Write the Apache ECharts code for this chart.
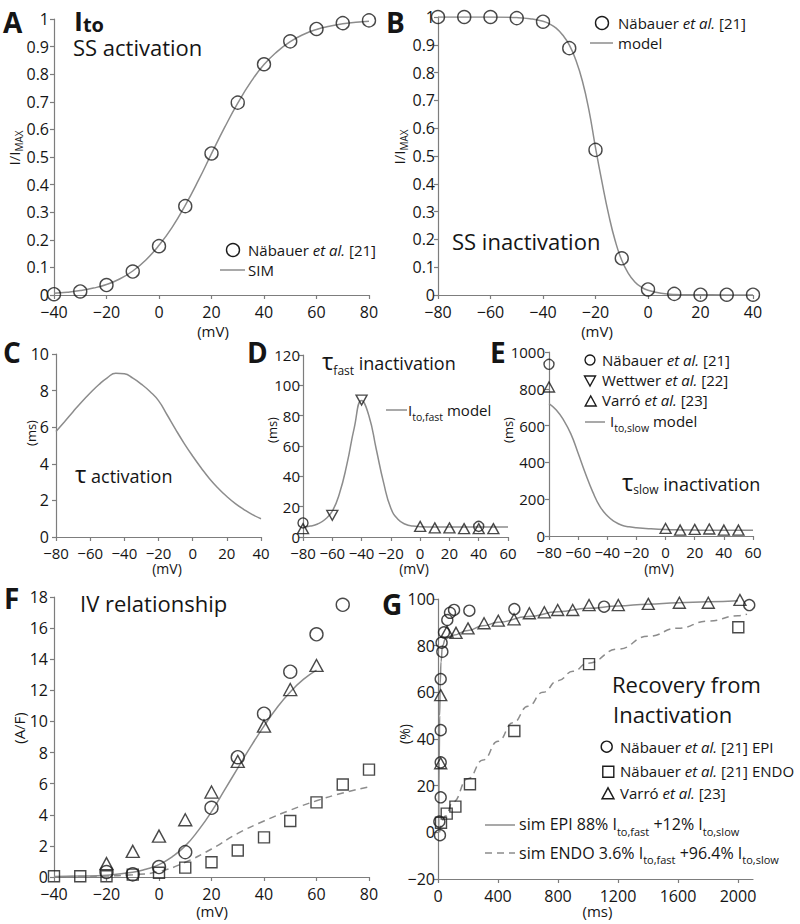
<!DOCTYPE html>
<html><head><meta charset="utf-8">
<script src="https://cdn.jsdelivr.net/npm/echarts@6/dist/echarts.min.js"></script>
<style>html,body{margin:0;padding:0;background:#fff}#c{width:800px;height:924px}</style>
</head><body><div id="c"></div>
<script>
// ---------- DATA ----------
// A: steady-state activation
const aVolt = [-40,-30,-20,-10,0,10,20,30,40,50,60,70,80];
const aNab  = [0.003,0.013,0.036,0.085,0.177,0.322,0.513,0.697,0.836,0.919,0.964,0.985,0.995];
const aSimV = [-40,-35,-30,-25,-20,-15,-10,-5,0,5,10,15,20,25,30,35,40,45,50,55,60,65,70,75,80];
const aSim  = [0.006,0.01,0.016,0.025,0.038,0.058,0.087,0.127,0.18,0.245,0.325,0.415,0.512,0.607,0.695,0.772,0.835,0.882,0.918,0.944,0.962,0.974,0.983,0.988,0.992];
// B: steady-state inactivation
const bVolt = [-80,-70,-60,-50,-40,-30,-20,-10,0,10,20,30,40];
const bNab  = [1,1,1,0.996,0.983,0.888,0.522,0.132,0.02,0.004,0.001,0.001,0.001];
const bModV = [-80,-70,-60,-50,-45,-40,-37.5,-35,-32.5,-30,-27.5,-25,-22.5,-20,-17.5,-15,-12.5,-10,-7.5,-5,-2.5,0,5,10,20,30,40];
const bMod  = [1,1,1,0.998,0.994,0.985,0.975,0.96,0.935,0.9,0.845,0.77,0.665,0.53,0.405,0.29,0.195,0.125,0.078,0.047,0.028,0.017,0.006,0.002,0.001,0,0];
// C: tau activation
const cVolt = [-80,-75,-70,-65,-60,-55,-50,-45,-40,-35,-30,-25,-20,-15,-10,-5,0,5,10,15,20,25,30,35,40];
const cTau  = [5.76,6.3,6.85,7.38,7.87,8.32,8.7,8.95,8.92,8.68,8.35,7.95,7.45,6.68,5.88,5.12,4.42,3.77,3.17,2.66,2.21,1.82,1.5,1.22,1.0];
// D: tau fast inactivation
const dModV = [-80,-75,-70,-65,-60,-55,-50,-45,-40,-35,-30,-25,-20,-15,-10,-5,0,10,20,30,40,50,60];
const dMod  = [6.5,7.2,8.6,11.5,17,29,48,72,90,80,58,36,19,11.5,8.4,7.2,6.8,6.6,6.6,6.6,6.6,6.6,6.6];
const dNabV = [-80,40];
const dNab  = [9.3,7.0];
const dWetV = [-60,-40];
const dWet  = [14.3,90.3];
const dVarV = [-80,0,10,20,30,40,50];
const dVar  = [5.5,7,6,6,5.5,5.5,5.5];
// E: tau slow inactivation
const eModV = [-80,-75,-70,-65,-60,-55,-50,-45,-40,-35,-30,-25,-20,-10,0,10,20,30,40,50,60];
const eMod  = [720,685,630,555,450,340,240,160,110,78,58,50,45,39,35,33,32,31,31,31,31];
const eNabV = [-80];
const eNab  = [933];
const eVarV = [-80,0,10,20,30,40,50];
const eVar  = [810,41,32,36,38,32,32];
// F: IV relationship
const fEpiV = [-20,-10,0,10,20,30,40,50,60,70];
const fEpi  = [0.32,0.17,0.64,1.6,4.45,7.7,10.5,13.2,15.6,17.5];
const fVarV = [-20,-10,0,10,20,30,40,50,60];
const fVar  = [0.86,1.65,2.63,3.68,5.46,7.43,9.7,12.05,13.6];
const fEndV = [-40,-30,-20,-10,0,10,20,30,40,50,60,70,80];
const fEnd  = [0.05,0.05,0.05,0.15,0.27,0.6,0.95,1.7,2.55,3.6,4.8,5.95,6.9];
const fSimEpiV = [-40,-30,-20,-10,-5,0,5,10,15,20,25,30,35,40,45,50,55,60];
const fSimEpi  = [0.03,0.06,0.12,0.3,0.5,0.8,1.3,2.0,3.0,4.2,5.6,7.0,8.4,9.7,10.9,11.9,12.7,13.3];
const fSimEndV = [-40,-30,-20,-10,0,10,20,30,40,50,60,70,80];
const fSimEnd  = [0.02,0.03,0.06,0.15,0.35,0.95,1.8,2.8,3.6,4.3,4.9,5.4,5.8];
// G: recovery from inactivation
const gEpiT = [13,9,18,18,18,18,29,24,40,62,80,107,209,509,1107,2075];
const gEpi  = [-1.2,4.6,15,30,43.8,65.7,77.4,81.3,85.7,91,94.1,95.3,95,95.7,96.7,97.4];
const gEndT = [20,58,116,213,509,1007,2002];
const gEnd  = [4.1,8,11,20.6,43.4,72.1,87.9];
const gVarT = [18,18,60,120,200,307,402,507,609,709,798,898,1007,1202,1402,1609,1802,2013];
const gVar  = [29.6,58.8,86,85.5,87.4,89.6,90.7,91.3,93.9,94.3,95.3,95.3,97.4,97.4,97.9,98.4,98.4,99.6];
const gSimEpiT = [5,8,11,15,20,30,50,100,200,300,400,600,800,1000,1200,1400,1600,1800,2000];
const gSimEpi  = [0,30,50,64,73,80,83,84.5,86.5,88.5,90,92.5,94.5,96,97,97.8,98.4,98.8,99.2];
const gSimEndT = [10,50,100,200,300,400,500,600,700,800,900,1000,1200,1400,1600,1800,2000,2060];
const gSimEnd  = [0,7,13,23,31,39,47,54,60,65,69,72.5,78.5,84,87.5,90.5,92.8,93.5];
const gTicks = [0,400,800,1200,1600,2000];

// ---------- STYLE ----------
const FONT = '"Open Sans", sans-serif';
const TXT = '#151515', AXC = '#7d7d7d', LC = '#8c8c8c', MK = '#1c1c1c';
const zip = (xs, ys) => xs.map((x, i) => [x, ys[i]]);
const fmt = v => (v < 0 ? '\u2212' : '') + Math.abs(v);

const grids = [
  {left:54,  top:19,  width:315, height:276},
  {left:438, top:17,  width:315, height:278},
  {left:56,  top:354, width:205, height:183},
  {left:303, top:355, width:205, height:182},
  {left:549, top:352, width:204, height:184},
  {left:54,  top:597, width:315, height:280},
  {left:438, top:599, width:315, height:280}
];

function mkAxis(g, min, max, interval, fs, margin, custom) {
  const o = {type:'value', gridIndex:g, min, max, interval,
    axisLine:{show:true, onZero:false, lineStyle:{color:AXC, width:1.2}},
    axisTick:{show:true, inside:false, length:4, lineStyle:{color:AXC, width:1.2}},
    splitLine:{show:false},
    axisLabel:{fontSize:fs, fontFamily:FONT, color:TXT, margin, formatter:fmt}};
  if (custom) { o.axisLabel.customValues = custom; o.axisTick.customValues = custom; }
  return o;
}
const xAxis = [
  mkAxis(0,-40,80,20,16,9),
  mkAxis(1,-80,40,20,16,9),
  mkAxis(2,-80,40,20,15,8),
  mkAxis(3,-80,60,20,15,8),
  mkAxis(4,-80,60,20,15,8),
  mkAxis(5,-40,80,20,16,9),
  mkAxis(6,0,2100,400,16,9,gTicks)
];
const yAxis = [
  mkAxis(0,0,1,0.1,16,5),
  mkAxis(1,0,1,0.1,16,3),
  mkAxis(2,0,10,2,16,7),
  mkAxis(3,0,120,20,15,3),
  mkAxis(4,0,1000,200,15,4),
  mkAxis(5,0,18,2,16,6),
  mkAxis(6,-20,100,20,16,3)
];

function sLine(i, data, dashed, mono) {
  const s = {type:'line', xAxisIndex:i, yAxisIndex:i, data, showSymbol:false, symbol:'none',
    smooth:0.5, silent:true, z:2,
    lineStyle:{color:LC, width:1.5, type: dashed ? [7,5] : 'solid'}};
  if (mono) s.smoothMonotone = 'x';
  return s;
}
function sPts(i, data, symbol, size, rot) {
  return {type:'scatter', xAxisIndex:i, yAxisIndex:i, data, symbol, symbolSize:size,
    symbolRotate: rot || 0, silent:true, z:3, clip:false,
    itemStyle:{color:'rgba(255,255,255,0)', borderColor:MK, borderWidth:1.4}};
}
const series = [
  sLine(0, zip(aSimV, aSim)), sPts(0, zip(aVolt, aNab), 'circle', 13),
  sLine(1, zip(bModV, bMod)), sPts(1, zip(bVolt, bNab), 'circle', 13),
  sLine(2, zip(cVolt, cTau)),
  sLine(3, zip(dModV, dMod)),
  sPts(3, zip(dNabV, dNab), 'circle', 10),
  sPts(3, zip(dWetV, dWet), 'triangle', [11,10], 180),
  sPts(3, zip(dVarV, dVar), 'triangle', [11,10]),
  sLine(4, zip(eModV, eMod)),
  sPts(4, zip(eNabV, eNab), 'circle', 10),
  sPts(4, zip(eVarV, eVar), 'triangle', [11,10]),
  sLine(5, zip(fSimEpiV, fSimEpi)),
  sLine(5, zip(fSimEndV, fSimEnd), true),
  sPts(5, zip(fEpiV, fEpi), 'circle', 13),
  sPts(5, zip(fVarV, fVar), 'triangle', [13,12]),
  sPts(5, zip(fEndV, fEnd), 'rect', 11),
  sLine(6, zip(gSimEpiT, gSimEpi), false, true),
  sLine(6, zip(gSimEndT, gSimEnd), true, true),
  sPts(6, zip(gEpiT, gEpi), 'circle', 11),
  sPts(6, zip(gEndT, gEnd), 'rect', 11),
  sPts(6, zip(gVarT, gVar), 'triangle', [12,11])
];

// ---------- TEXT / LEGEND GRAPHICS ----------
const ctx = document.createElement('canvas').getContext('2d');
function tw(t, size, st) {
  ctx.font = (st.includes('i') ? 'italic ' : '') + (st.includes('b') ? 'bold ' : '') + size + 'px ' + FONT;
  return ctx.measureText(t).width;
}
function tEl(x, y, t, size, st, align) {
  return {type:'text', x, y, silent:true, style:{text:t, fontSize:size, fontFamily:FONT,
    fontWeight: st.includes('b') ? 'bold' : 'normal', fontStyle: st.includes('i') ? 'italic' : 'normal',
    fill:TXT, align: align || 'left', verticalAlign:'middle', textAlign: align || 'left', textVerticalAlign:'middle'}};
}
// parts: [text, size, dy, style]
function runs(x, base, parts) {
  const els = []; let cx = x;
  for (const p of parts) {
    const size = p[1], dy = p[2] || 0, st = p[3] || '';
    els.push(tEl(cx, base + dy - 0.388 * size, p[0], size, st));
    cx += tw(p[0], size, st);
  }
  return {els, width: cx - x};
}
const G = [];
function H(x, base, parts) { G.push(...runs(x, base, parts).els); }
function T(x, base, t, size, st) { H(x, base, [[t, size, 0, st || '']]); }
function C(cx, cy, t, size) { G.push(tEl(cx, cy, t, size, '', 'center')); }
function V(cx, cy, parts) {
  const main = parts[0][1];
  const r = runs(0, 0.388 * main, parts);
  r.els.forEach(e => { e.x -= r.width / 2; });
  G.push({type:'group', x:cx, y:cy, rotation:Math.PI / 2, silent:true, children:r.els});
}
function circ(cx, cy, d) { G.push({type:'circle', silent:true, shape:{cx, cy, r:d / 2}, style:{fill:'none', stroke:MK, lineWidth:1.4}}); }
function sq(cx, cy, d) { G.push({type:'rect', silent:true, shape:{x:cx - d / 2, y:cy - d / 2, width:d, height:d}, style:{fill:'none', stroke:MK, lineWidth:1.4}}); }
function tri(cx, cy, w, h, down) {
  const pts = down ? [[cx - w / 2, cy - h / 2], [cx + w / 2, cy - h / 2], [cx, cy + h / 2]]
                   : [[cx - w / 2, cy + h / 2], [cx + w / 2, cy + h / 2], [cx, cy - h / 2]];
  G.push({type:'polygon', silent:true, shape:{points:pts}, style:{fill:'none', stroke:MK, lineWidth:1.4}});
}
function seg(x1, x2, y, dashed) {
  G.push({type:'line', silent:true, shape:{x1, y1:y, x2, y2:y}, style:{stroke:LC, lineWidth:1.5, lineDash: dashed ? [7,5] : null}});
}
const et = (name, ref) => [[name + ' ', 15], ['et al.', 15, 0, 'i'], [' ' + ref, 15]];

// panel letters
T(3, 33, 'A', 28, 'b'); T(386, 33, 'B', 28, 'b'); T(3, 363, 'C', 28, 'b');
T(247, 363, 'D', 28, 'b'); T(490, 363, 'E', 28, 'b'); T(4, 609, 'F', 28, 'b'); T(382, 615, 'G', 28, 'b');

// A
H(74, 31, [['I', 27, 0, 'b'], ['to', 20, 1, 'b']]);
T(73, 56, 'SS activation', 22);
circ(233, 250, 13); H(248, 255.4, et('Näbauer', '[21]'));
seg(220, 245, 270); T(248, 275.4, 'SIM', 15);
V(14, 148, [['I/I', 15], ['MAX', 10, 3]]);
C(213, 331, '(mV)', 15);

// B
T(452, 250, 'SS inactivation', 22);
circ(602, 23, 13); H(618, 28.4, et('Näbauer', '[21]'));
seg(590, 613, 43); T(618, 48.4, 'model', 15);
V(399, 147, [['I/I', 15], ['MAX', 10, 3]]);
C(597, 331, '(mV)', 15);

// C
H(75, 483, [['τ', 24], [' activation', 18]]);
V(31, 433, [['(ms)', 13]]);
C(167, 568, '(mV)', 14);

// D
H(322, 370, [['τ', 24], ['fast', 12, 5], [' inactivation', 18]]);
seg(386, 407, 410); H(408, 416, [['I', 15], ['to,fast', 10.5, 5], [' model', 15]]);
V(272, 430, [['(ms)', 13]]);
C(414, 568, '(mV)', 14);

// E
H(622, 491, [['τ', 24], ['slow', 12, 3], [' inactivation', 18]]);
circ(590, 360, 10); H(602, 365.4, et('Näbauer', '[21]'));
tri(590, 381, 11, 10, true); H(602, 386, et('Wettwer', '[22]'));
tri(590.7, 401, 11, 10); H(602, 406, et('Varró', '[23]'));
seg(585, 605, 422); H(610, 427, [['I', 15], ['to,slow', 10.5, 5], [' model', 15]]);
V(508, 430, [['(ms)', 13]]);
C(659, 568, '(mV)', 14);

// F
T(80, 612, 'IV relationship', 22);
V(18.5, 728, [['(A/F)', 15]]);
C(212, 911, '(mV)', 15);

// G
T(612, 693, 'Recovery from', 22); T(613, 722.7, 'Inactivation', 22);
circ(606.7, 746.7, 11); H(620, 753, et('Näbauer', '[21] EPI'));
sq(608.3, 771.7, 11); H(620, 777, et('Näbauer', '[21] ENDO'));
tri(608, 793.3, 12, 11); H(620, 799, et('Varró', '[23]'));
seg(485, 515, 825); H(519, 830.5, [['sim EPI 88% I', 16], ['to,fast', 11, 5], [' +12% I', 16], ['to,slow', 11, 5]]);
seg(485, 515, 853, true); H(519, 859, [['sim ENDO 3.6% I', 16], ['to,fast', 11, 5], [' +96.4% I', 16], ['to,slow', 11, 5]]);
V(404, 734, [['(%)', 14]]);
C(597.5, 911, '(ms)', 15);

const chart = echarts.init(document.getElementById('c'), null, {renderer:'svg', width:800, height:924});
chart.setOption({
  animation:false,
  backgroundColor:'#fff',
  textStyle:{fontFamily:FONT},
  grid: grids,
  xAxis, yAxis, series,
  graphic: G
});
</script>
</body></html>
